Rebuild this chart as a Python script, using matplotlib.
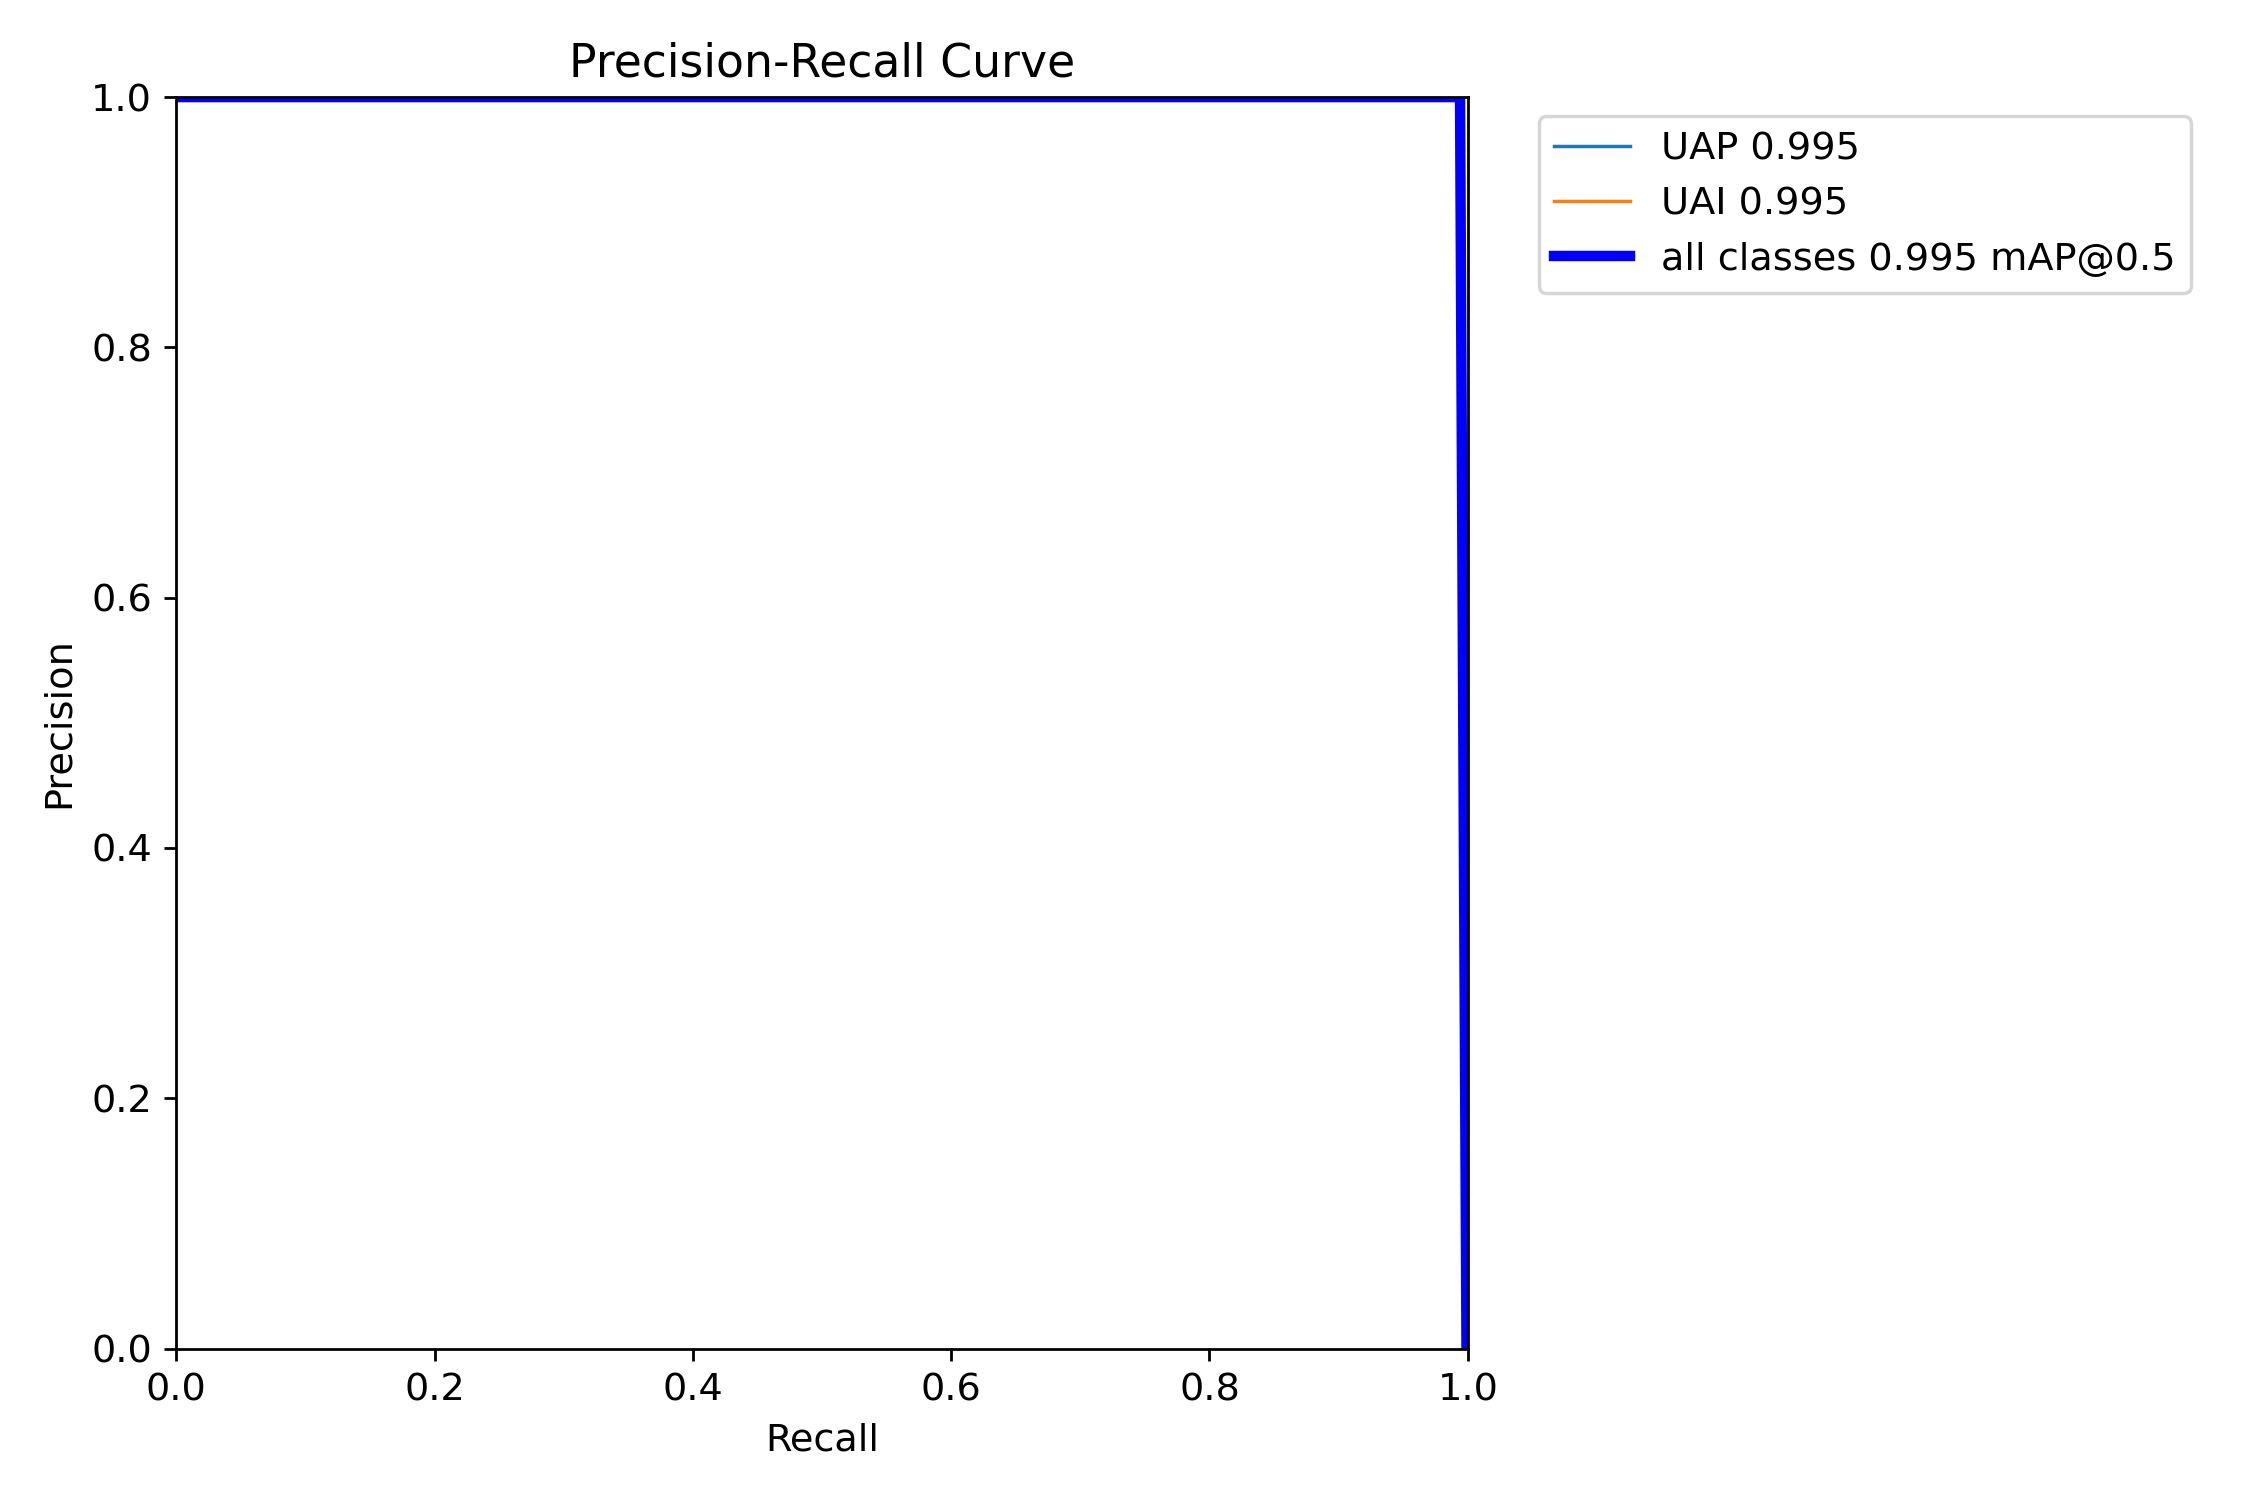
import numpy as np
import matplotlib
matplotlib.use('Agg')
import matplotlib.pyplot as plt

matplotlib.rc('font', size=11)

names = ['UAP', 'UAI']
ap = [0.995, 0.995]
recall = [0.0, 0.994, 0.999, 1.0]
precision_uap = [1.0, 1.0, 0.0, 0.0]
precision_uai = [1.0, 1.0, 0.0, 0.0]

py = np.stack([precision_uap, precision_uai], axis=1)

fig, ax = plt.subplots(1, 1, figsize=(9, 6), tight_layout=True)
for i, y in enumerate(py.T):
    ax.plot(recall, y, linewidth=1, label=f'{names[i]} {ap[i]:.3f}')
ax.plot(recall, py.mean(1), linewidth=3, color='blue',
        label='all classes %.3f mAP@0.5' % np.mean(ap))
ax.set_xlabel('Recall')
ax.set_ylabel('Precision')
ax.set_xlim(0, 1)
ax.set_ylim(0, 1)
ax.legend(bbox_to_anchor=(1.04, 1), loc="upper left")
ax.set_title('Precision-Recall Curve')
fig.savefig('out.png', dpi=250)
